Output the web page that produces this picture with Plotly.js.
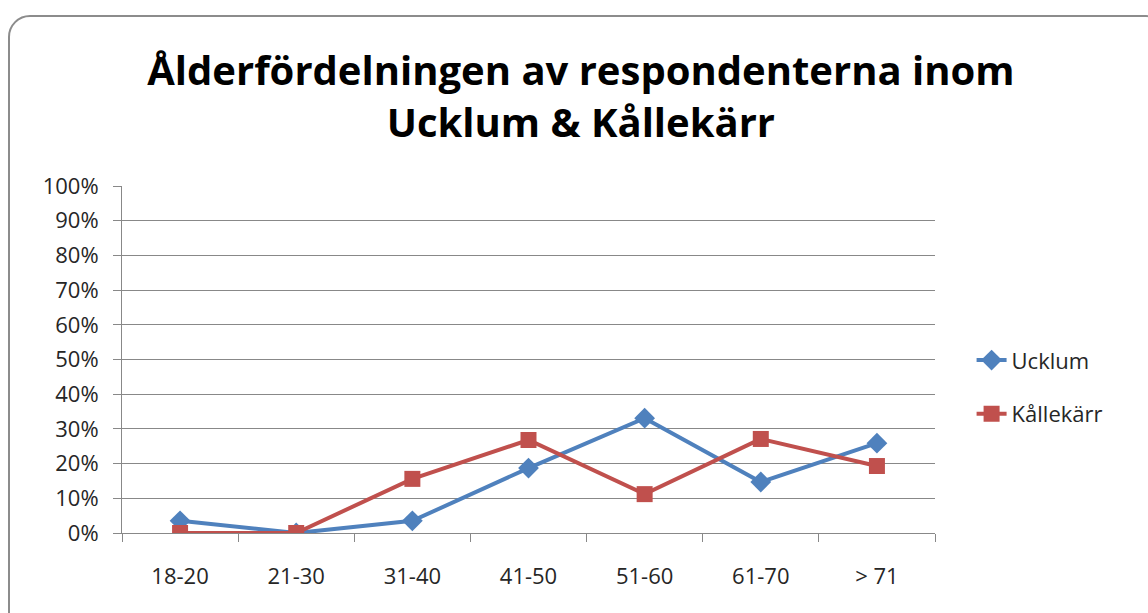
<!DOCTYPE html>
<html><head><meta charset="utf-8">
<script src="https://cdn.plot.ly/plotly-3.0.1.min.js"></script>
<style>
html,body{margin:0;padding:0;background:#fff;}
#frame{position:absolute;left:8px;top:15px;width:1160px;height:620px;border:2px solid #8c8c8c;border-radius:22px;box-sizing:border-box;}
#chart{position:absolute;left:0;top:0;width:1148px;height:613px;}
</style></head>
<body>
<div id="frame"></div>
<div id="chart"></div>
<script>
const categories = ["18-20","21-30","31-40","41-50","51-60","61-70","> 71"];
const ucklum = [0.035, 0.0, 0.035, 0.187, 0.331, 0.147, 0.259];
const kallekarr = [0.0, 0.0, 0.156, 0.268, 0.112, 0.271, 0.193];
const seriesNames = ["Ucklum","Kållekärr"];

const traces = [
  {x: categories, y: ucklum, name: seriesNames[0], legendgroup:'a', type:'scatter', mode:'lines+markers',
   line:{color:'#4F81BD', width:4}, marker:{symbol:'diamond', size:16, color:'#4F81BD'}},
  {x: categories, y: kallekarr, name: seriesNames[1], legendgroup:'b', type:'scatter', mode:'lines+markers',
   line:{color:'#C0504D', width:4}, marker:{symbol:'square', size:16, color:'#C0504D'}}
];

const layout = {
  width:1148, height:613,
  paper_bgcolor:'rgba(0,0,0,0)', plot_bgcolor:'rgba(0,0,0,0)',
  margin:{l:122, r:213, t:186, b:80},
  font:{family:'"Open Sans", "Noto Sans", sans-serif', color:'#262626'},
  title:{text:'Ålderfördelningen av respondenterna inom<br>Ucklum & Kållekärr',
         font:{family:'"Open Sans", sans-serif', size:40, color:'#000', weight:'bold'},
         x:0.506, xref:'container', xanchor:'center', y:0.862, yref:'container', yanchor:'middle'},
  xaxis:{type:'category', tickson:'boundaries', ticks:'outside', ticklen:8, tickcolor:'#888',
         showgrid:false, showline:true, linecolor:'#888', linewidth:1, ticklabelstandoff:24,
         tickfont:{size:22, color:'#262626'}, range:[-0.5,6.5], fixedrange:true},
  yaxis:{range:[0,1], tickvals:[0,0.1,0.2,0.3,0.4,0.5,0.6,0.7,0.8,0.9,1], tickformat:'.0%',
         ticks:'outside', ticklen:8, tickcolor:'#888', showgrid:true, gridcolor:'#888', gridwidth:1,
         showline:true, linecolor:'#888', zeroline:false, ticklabelstandoff:10,
         tickfont:{size:22, color:'#262626'}, fixedrange:true},
  showlegend:true,
  legend:{x:1.045, xanchor:'left', y:0.42, yanchor:'middle', font:{size:22, color:'#262626'},
          bgcolor:'rgba(0,0,0,0)', traceorder:'grouped', tracegroupgap:22}
};
Plotly.newPlot('chart', traces, layout, {displayModeBar:false, staticPlot:true});
</script>
</body></html>
